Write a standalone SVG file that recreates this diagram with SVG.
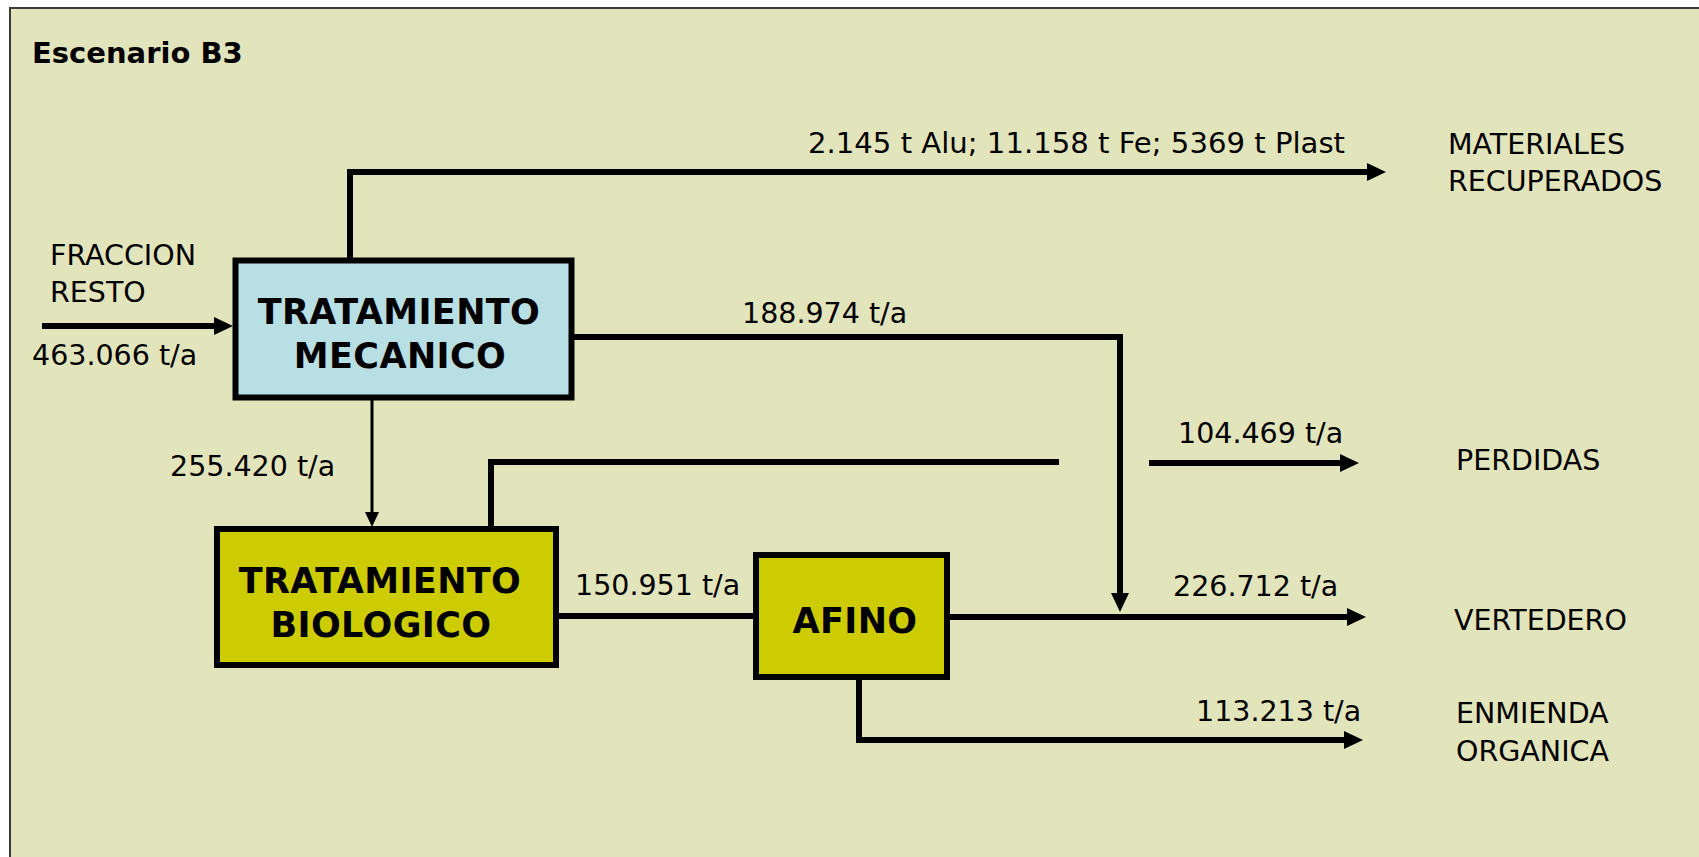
<svg xmlns="http://www.w3.org/2000/svg" width="1699" height="857" viewBox="0 0 1699 857">
<defs>
<style>
.lbl{font-family:"DejaVu Sans",Verdana,sans-serif;font-size:28.5px;fill:#000}
.node{font-family:"DejaVu Sans",Verdana,sans-serif;font-size:35px;font-weight:bold;fill:#000;text-anchor:middle;letter-spacing:0.4px}
.title{font-family:"DejaVu Sans",Verdana,sans-serif;font-size:29px;font-weight:bold;fill:#000}
.thick{fill:none;stroke:#000;stroke-width:6;stroke-linejoin:miter}
.thin{fill:none;stroke:#000;stroke-width:3}
.box{stroke:#000;stroke-width:6}
</style>
<marker id="ah" markerUnits="userSpaceOnUse" markerWidth="19" markerHeight="19" refX="1" refY="9.5" orient="auto" viewBox="0 0 19 19">
<path d="M0,0.5 L19,9.5 L0,18.5 z" fill="#000"/>
</marker>
<marker id="ahs" markerUnits="userSpaceOnUse" markerWidth="15" markerHeight="15" refX="1" refY="7.5" orient="auto" viewBox="0 0 15 15">
<path d="M0,0.5 L15,7.5 L0,14.5 z" fill="#000"/>
</marker>
</defs>
<rect x="0" y="0" width="1699" height="857" fill="#ffffff"/>
<rect x="10" y="8" width="1700" height="860" fill="#E2E4BC" stroke="#3a3a3a" stroke-width="2"/>
<text class="title" x="32" y="63">Escenario B3</text>

<g id="connectors">
<path class="thick" d="M42,326 H215" marker-end="url(#ah)"/>
<path class="thick" d="M350,258 V172 H1368" marker-end="url(#ah)"/>
<path class="thick" d="M574,337 H1120 V594" marker-end="url(#ah)"/>
<path class="thin" d="M372,400 V513" marker-end="url(#ahs)"/>
<path class="thick" d="M491,526 V462 H1059"/>
<path class="thick" d="M1149,463 H1341" marker-end="url(#ah)"/>
<path class="thick" d="M559,616 H753"/>
<path class="thick" d="M950,617 H1348" marker-end="url(#ah)"/>
<path class="thick" d="M859,680 V740 H1345" marker-end="url(#ah)"/>
</g>

<g id="node-mecanico">
<rect class="box" x="235.5" y="260.5" width="336" height="137" fill="#B8DFE4" stroke-width="5"/>
<text class="node" x="399" y="324">TRATAMIENTO</text>
<text class="node" x="400" y="368">MECANICO</text>
</g>
<g id="node-biologico">
<rect class="box" x="217" y="529" width="339" height="136" fill="#CCCC00"/>
<text class="node" x="380" y="593">TRATAMIENTO</text>
<text class="node" x="381" y="637">BIOLOGICO</text>
</g>
<g id="node-afino">
<rect class="box" x="756" y="555" width="191" height="122" fill="#CCCC00"/>
<text class="node" x="855" y="633">AFINO</text>
</g>

<g id="labels">
<text class="lbl" x="50" y="265">FRACCION</text>
<text class="lbl" x="50" y="302">RESTO</text>
<text class="lbl" x="32" y="365">463.066 t/a</text>
<text class="lbl" x="808" y="153" textLength="537" lengthAdjust="spacingAndGlyphs">2.145 t Alu; 11.158 t Fe; 5369 t Plast</text>
<text class="lbl" x="742" y="323">188.974 t/a</text>
<text class="lbl" x="170" y="476">255.420 t/a</text>
<text class="lbl" x="575" y="595">150.951 t/a</text>
<text class="lbl" x="1178" y="443">104.469 t/a</text>
<text class="lbl" x="1173" y="596">226.712 t/a</text>
<text class="lbl" x="1196" y="721">113.213 t/a</text>
</g>
<g id="node-materiales">
<text class="lbl" x="1448" y="154">MATERIALES</text>
<text class="lbl" x="1448" y="191">RECUPERADOS</text>
</g>
<g id="node-perdidas">
<text class="lbl" x="1456" y="470">PERDIDAS</text>
</g>
<g id="node-vertedero">
<text class="lbl" x="1454" y="630">VERTEDERO</text>
</g>
<g id="node-enmienda">
<text class="lbl" x="1456" y="723">ENMIENDA</text>
<text class="lbl" x="1456" y="761">ORGANICA</text>
</g>
</svg>
